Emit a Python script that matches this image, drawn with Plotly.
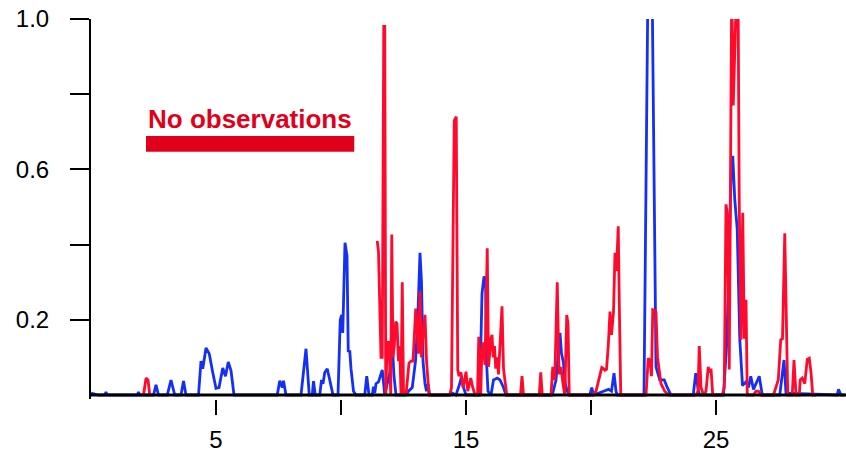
import plotly.graph_objects as go

# ---- data ----
blue_x = [0.0, 0.3, 0.55, 0.6, 0.65, 1.85, 1.9, 1.95, 2.5, 2.6, 2.7, 3.05, 3.2, 3.35, 3.6, 3.7, 3.8,
          4.3, 4.4, 4.47, 4.6, 4.73, 4.87, 5.0, 5.12, 5.27, 5.38, 5.49, 5.6, 5.72,
          7.45, 7.55, 7.65, 7.7, 7.8, 8.4, 8.6, 8.73, 8.85, 8.9, 8.97,
          9.15, 9.22, 9.28, 9.35, 9.45, 9.55, 9.68, 9.88, 9.97, 10.03, 10.07, 10.16, 10.24, 10.29,
          10.35, 10.4, 10.5, 10.6, 10.95, 11.03, 11.12, 11.25, 11.3, 11.35, 11.4, 11.5, 11.65, 11.75,
          11.95, 12.05, 12.12, 12.2, 12.6, 12.7, 12.85, 12.98, 13.07, 13.16, 13.22, 13.28, 13.36,
          13.42, 13.48, 13.55, 14.3, 14.45, 14.6, 14.75, 14.82, 14.9, 15.0,
          15.55, 15.64, 15.72, 15.78, 15.82, 15.88, 16.0, 16.1, 16.25, 16.36, 16.5, 16.6,
          18.45, 18.6, 18.7, 18.76, 18.82, 18.9, 18.97, 19.05, 19.15,
          19.95, 20.03, 20.1, 20.5, 20.7, 20.82, 20.92, 21.0, 21.05,
          22.12, 22.3, 22.42, 22.6, 22.75, 22.93, 23.05, 23.2,
          24.09, 24.19, 24.3, 24.35, 25.3, 25.43, 25.5, 25.6, 25.67, 25.75, 25.85, 25.95,
          26.06, 26.2, 26.3, 26.39, 26.5, 26.6, 26.73, 26.85, 27.55, 27.72, 27.8,
          29.85, 29.9, 30.0, 30.15]
blue_y = [0.005, 0, 0, 0.008, 0, 0, 0.008, 0, 0, 0.027, 0, 0, 0.04, 0, 0, 0.037, 0,
          0, 0.09, 0.07, 0.125, 0.11, 0.06, 0.018, 0.02, 0.072, 0.05, 0.088, 0.065, 0,
          0, 0.038, 0.02, 0.038, 0, 0, 0.123, 0, 0, 0.037, 0,
          0, 0.04, 0.03, 0.06, 0.07, 0.04, 0, 0, 0.2, 0.213, 0.165, 0.405, 0.37, 0.115,
          0.118, 0.07, 0.01, 0, 0, 0.05, 0, 0, 0.022, 0.005, 0.03, 0.035, 0.067, 0,
          0.06, 0.139, 0.05, 0, 0, 0.01, 0.02, 0.09, 0.2, 0.378, 0.3, 0.09, 0.03,
          0.01, 0.03, 0, 0, 0.005, 0, 0.03, 0.05, 0.02, 0,
          0, 0.27, 0.315, 0.31, 0.09, 0.01, 0, 0.04, 0.045, 0.04, 0.02, 0,
          0, 0.04, 0.12, 0.165, 0.11, 0.085, 0.03, 0.01, 0,
          0, 0.02, 0, 0.01, 0.015, 0.01, 0.058, 0.01, 0,
          0, 1.25, 1.25, 0.075, 0.04, 0.04, 0.02, 0,
          0, 0.058, 0.01, 0, 0, 0.14, 0.3, 0.573, 0.636, 0.52, 0.44, 0.15,
          0.025, 0.035, 0.02, 0.05, 0.015, 0.03, 0.05, 0, 0, 0.093, 0.005,
          0, 0.015, 0, 0]

red_x = [2.1, 2.2, 2.28, 2.35, None,
         11.45, 11.5, 11.6, 11.65, 11.71, 11.75, 11.79, 11.85, 11.92, 11.99, 12.03, 12.08, 12.13,
         12.19, 12.24, 12.3, 12.35, 12.4, 12.45, 12.5, 12.6, 12.72, 12.8, 12.88, 12.99, 13.05,
         13.1, 13.16, 13.22, 13.28, 13.36, 13.42, 13.52,
         14.35, 14.42, 14.53, 14.61, 14.67, 14.72, 14.8, 14.88, 14.95, 15.0, 15.07, 15.19, 15.27,
         15.36, 15.46, 15.51, 15.59, 15.63, 15.68, 15.76, 15.85, 15.9, 16.0, 16.04, 16.09, 16.14,
         16.19, 16.25, 16.3, 16.36, 16.44, 16.5, 16.63,
         17.18, 17.24, 17.3, 17.93, 17.99, 18.05, 18.4, 18.47, 18.55, 18.65, 18.72, 18.8, 18.88,
         18.95, 19.03, 19.08, 19.13,
         20.07, 20.2, 20.33, 20.43, 20.5, 20.56, 20.62, 20.69, 20.76, 20.82, 20.9, 20.96, 21.02,
         21.09, 21.13, 21.19,
         22.2, 22.29, 22.36, 22.42, 22.47, 22.55, 22.6, 22.66, 22.72, 22.8, 22.95, 23.1,
         24.2, 24.28, 24.33, 24.4, 24.5, 24.6, 24.69, 24.74, 24.8, 24.87,
         25.25, 25.33, 25.4, 25.46, 25.53, 25.63, 25.69, 25.75, 25.83, 25.88, 25.93, 26.0, 26.07,
         26.13, 26.2, 26.25, 26.5, 26.6, 26.7, 26.8,
         27.3, 27.49, 27.59, 27.66, 27.75, 27.87, 28.05, 28.12, 28.2, 28.33, 28.37, 28.45, 28.55,
         28.65, 28.73, 28.8, 28.87, 29.0]
red_y = [0, 0.045, 0.04, 0, None,
         0.41, 0.38, 0.10, 0.10, 0.98, 0.98, 0, 0.14, 0.14, 0, 0.427, 0.10, 0.13,
         0.195, 0.19, 0.09, 0.13, 0, 0.30, 0.01, 0, 0.085, 0.09, 0.09, 0.23, 0.17,
         0.11, 0.275, 0.10, 0.16, 0.213, 0.093, 0,
         0, 0.02, 0.73, 0.74, 0.067, 0.05, 0.06, 0.02, 0.04, 0.062, 0.01, 0.045, 0.02,
         0, 0, 0.155, 0, 0.11, 0.14, 0.08, 0.39, 0.075, 0.15, 0.16, 0.10, 0.13,
         0.07, 0.10, 0.055, 0.145, 0.236, 0.07, 0,
         0, 0.05, 0, 0, 0.06, 0, 0, 0.075, 0.04, 0.30, 0.055, 0.075, 0.03,
         0, 0.213, 0.19, 0,
         0, 0.01, 0.05, 0.073, 0.07, 0.066, 0.068, 0.13, 0.222, 0.16, 0.22, 0.378, 0.33,
         0.449, 0.25, 0,
         0, 0.098, 0.09, 0.05, 0.227, 0.225, 0.22, 0.10, 0.07, 0.03, 0.01, 0,
         0, 0.01, 0.13, 0.02, 0, 0.01, 0.075, 0.06, 0.07, 0,
         0, 0.02, 0.507, 0.48, 0.068, 1.1, 0.77, 0.94, 1.1, 1.1, 0.51, 0.147, 0.485,
         0.15, 0.253, 0, 0, 0.01, 0.01, 0,
         0, 0.04, 0.147, 0.15, 0.43, 0, 0, 0.093, 0, 0, 0.04, 0.045, 0.03,
         0.095, 0.098, 0.06, 0, 0]

x_tick_vals = [5, 10, 15, 20, 25]
x_tick_text = ["5", "", "15", "", "25"]
y_tick_vals = [0.2, 0.4, 0.6, 0.8, 1.0]
y_tick_text = ["0.2", "", "0.6", "", "1.0"]

no_obs_label = "No observations"
no_obs_start = 2.2
no_obs_end = 10.53
no_obs_band = [0.647, 0.689]
no_obs_label_y = 0.734

X_MAX = 30.2
Y_MIN = -0.0106

BLUE = "#1530f5"
RED = "#ff0a2d"
DARK_RED = "#e0001b"
FONT = "Liberation Sans, Arial, sans-serif"

fig = go.Figure()
fig.add_trace(go.Scatter(x=blue_x, y=blue_y, mode="lines",
                         line=dict(color=BLUE, width=2.8), connectgaps=False,
                         showlegend=False, hoverinfo="skip"))
fig.add_trace(go.Scatter(x=red_x, y=red_y, mode="lines",
                         line=dict(color=RED, width=2.8), connectgaps=False,
                         showlegend=False, hoverinfo="skip"))

# baseline drawn over the traces at y = 0
fig.add_shape(type="line", xref="x", yref="y", x0=0, x1=X_MAX, y0=0, y1=0,
              line=dict(color="black", width=2.8), layer="above")

fig.add_shape(type="rect", xref="x", yref="y",
              x0=no_obs_start, x1=no_obs_end, y0=no_obs_band[0], y1=no_obs_band[1],
              fillcolor=DARK_RED, line=dict(width=0))
fig.add_annotation(x=(no_obs_start + no_obs_end) / 2, y=no_obs_label_y, xref="x", yref="y",
                   text="<b>" + no_obs_label + "</b>", showarrow=False,
                   font=dict(family=FONT, size=26, color=DARK_RED))

fig.update_layout(
    width=846, height=453,
    margin=dict(l=91, r=0, t=19, b=54, autoexpand=False),
    paper_bgcolor="white", plot_bgcolor="white",
    font=dict(family=FONT, size=24, color="black"),
)
fig.update_xaxes(range=[0, X_MAX], showgrid=False, zeroline=False,
                 showline=False, automargin=False,
                 ticks="outside", ticklen=15, tickwidth=2, tickcolor="black",
                 tickvals=x_tick_vals, ticktext=x_tick_text,
                 ticklabelstandoff=4)
fig.update_yaxes(range=[Y_MIN, 1], showgrid=False, zeroline=False,
                 showline=True, linecolor="black", linewidth=2, automargin=False,
                 ticks="outside", ticklen=19, tickwidth=2, tickcolor="black",
                 tickvals=y_tick_vals, ticktext=y_tick_text,
                 ticklabelstandoff=16, layer="above traces")

fig.write_html("out.html")
